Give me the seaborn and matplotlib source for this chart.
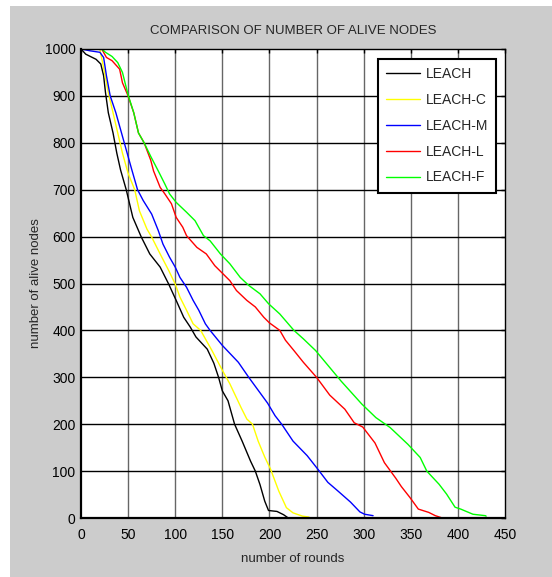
import numpy as np
import pandas as pd
import matplotlib
matplotlib.use("Agg")
import matplotlib.pyplot as plt
from matplotlib.patches import Rectangle
import seaborn as sns

sns.set_style("white")
plt.rcParams["font.family"] = ["Liberation Sans", "DejaVu Sans"]

# values (round, alive nodes)
leach_r = [0, 5, 10, 16, 21, 24, 26, 29, 34, 38, 42, 48, 55, 64, 73, 84, 93, 101, 109,
           116, 122, 134, 141, 146, 150, 156, 163, 171, 180, 185, 190, 195, 199,
           208, 215, 220]
leach_n = [1000, 989, 984, 978, 968, 943, 907, 864, 821, 778, 742, 700, 641, 599, 563,
           535, 499, 464, 428, 407, 386, 360, 330, 300, 271, 250, 200, 164, 121,
           100, 71, 36, 16, 14, 7, 0]

leach_c_r = [0, 20, 25, 29, 34, 39, 44, 50, 57, 62, 70, 75, 84, 93, 100, 105, 112, 119,
             127, 139, 150, 158, 170, 176, 182, 188, 195, 201, 210, 218, 225, 235, 242]
leach_c_n = [1000, 1000, 950, 907, 864, 821, 778, 735, 700, 655, 616, 599, 563, 528, 499,
             471, 443, 414, 400, 357, 315, 286, 235, 211, 200, 164, 130, 105, 57, 22, 11,
             4, 2]

leach_m_r = [0, 10, 20, 24, 27, 31, 37, 43, 48, 54, 60, 66, 75, 82, 87, 94, 100, 105,
             112, 119, 125, 132, 137, 150, 167, 178, 198, 206, 213, 225, 240, 251, 262,
             273, 286, 296, 301, 310]
leach_m_n = [1000, 996, 993, 982, 943, 900, 864, 821, 785, 742, 700, 677, 648, 613, 584,
             556, 535, 513, 492, 464, 443, 414, 400, 368, 332, 300, 245, 218, 200, 164,
             133, 105, 76, 57, 34, 13, 8, 5]

leach_l_r = [0, 22, 27, 33, 41, 44, 50, 56, 61, 67, 74, 77, 84, 89, 96, 101, 108, 112,
             123, 133, 142, 149, 158, 165, 176, 185, 194, 200, 211, 217, 226, 236, 250,
             264, 280, 290, 299, 312, 322, 334, 340, 349, 358, 369, 376, 382]
leach_l_n = [1000, 1000, 982, 975, 957, 928, 900, 864, 821, 800, 763, 740, 705, 691, 670,
             641, 620, 602, 577, 563, 538, 524, 506, 485, 464, 450, 428, 416, 400, 379,
             357, 332, 300, 262, 232, 203, 194, 160, 118, 85, 67, 44, 19, 12, 5, 1]

leach_f_r = [0, 22, 26, 33, 39, 44, 50, 56, 61, 67, 74, 82, 89, 94, 101, 112, 121, 130,
             137, 148, 158, 169, 178, 190, 199, 211, 226, 236, 249, 276, 298, 313, 328,
             347, 360, 367, 380, 388, 397, 403, 416, 429, 430]
leach_f_n = [1000, 1000, 993, 984, 971, 950, 902, 864, 821, 800, 771, 740, 712, 691, 673,
             652, 634, 602, 591, 563, 542, 513, 496, 478, 457, 435, 400, 382, 357, 292,
             243, 214, 193, 157, 129, 100, 72, 51, 23, 19, 8, 5, 4]

names = ["LEACH", "LEACH-C", "LEACH-M", "LEACH-L", "LEACH-F"]
colors = ["#000000", "#ffff00", "#0000ff", "#ff0000", "#00ff00"]
series = [(leach_r, leach_n), (leach_c_r, leach_c_n), (leach_m_r, leach_m_n),
          (leach_l_r, leach_l_n), (leach_f_r, leach_f_n)]

frames = []
for name, (r, n) in zip(names, series):
    frames.append(pd.DataFrame({"round": r, "alive": n, "protocol": name}))
df = pd.concat(frames, ignore_index=True)

fig = plt.figure(figsize=(5.52, 5.77), dpi=100)
fig.patch.set_facecolor("white")
fig.add_artist(Rectangle((10 / 552, 0), 1, 1 - 6 / 577, transform=fig.transFigure,
                         facecolor="#cccccc", edgecolor="none", zorder=-10))
ax = fig.add_axes([81 / 552, 1 - 518 / 577, 424 / 552, 469 / 577])
ax.set_facecolor("white")

sns.lineplot(data=df, x="round", y="alive", hue="protocol", hue_order=names,
             palette=dict(zip(names, colors)), estimator=None, sort=False,
             linewidth=1.0, ax=ax)

ax.set_xlim(0, 450)
ax.set_ylim(0, 1000)
ax.set_xticks(np.arange(0, 451, 50))
ax.set_yticks(np.arange(0, 1001, 100))

# matlab-like grid: grey verticals, black horizontals
for x in np.arange(50, 450, 50):
    ax.axvline(x, color="0.4", linewidth=1.0, zorder=0)
for y in np.arange(100, 1000, 100):
    ax.axhline(y, color="black", linewidth=1.0, zorder=0)

ax.tick_params(direction="in", length=3, width=1, top=True, right=True,
               labelsize=10, colors="black")
ax.tick_params(axis="x", pad=7)
ax.tick_params(axis="y", pad=4)
for side in ["left", "bottom"]:
    ax.spines[side].set_linewidth(1.6)
for side in ["top", "right"]:
    ax.spines[side].set_linewidth(1.0)
for s in ax.spines.values():
    s.set_color("black")

ax.set_title("COMPARISON OF NUMBER OF ALIVE NODES", fontsize=9.5, pad=11)
ax.set_xlabel("number of rounds", fontsize=9.5, labelpad=8)
ax.set_ylabel("number of alive nodes", fontsize=9.5, labelpad=2)

leg = ax.legend(loc="upper right", bbox_to_anchor=(0.979, 0.979), borderaxespad=0,
                fontsize=10, frameon=True, fancybox=False, framealpha=1,
                edgecolor="black", handlelength=2.4, handletextpad=0.4,
                labelspacing=0.85, borderpad=0.6)
leg.get_frame().set_linewidth(1.5)
leg.set_title(None)

fig.savefig("out.png", dpi=100)
